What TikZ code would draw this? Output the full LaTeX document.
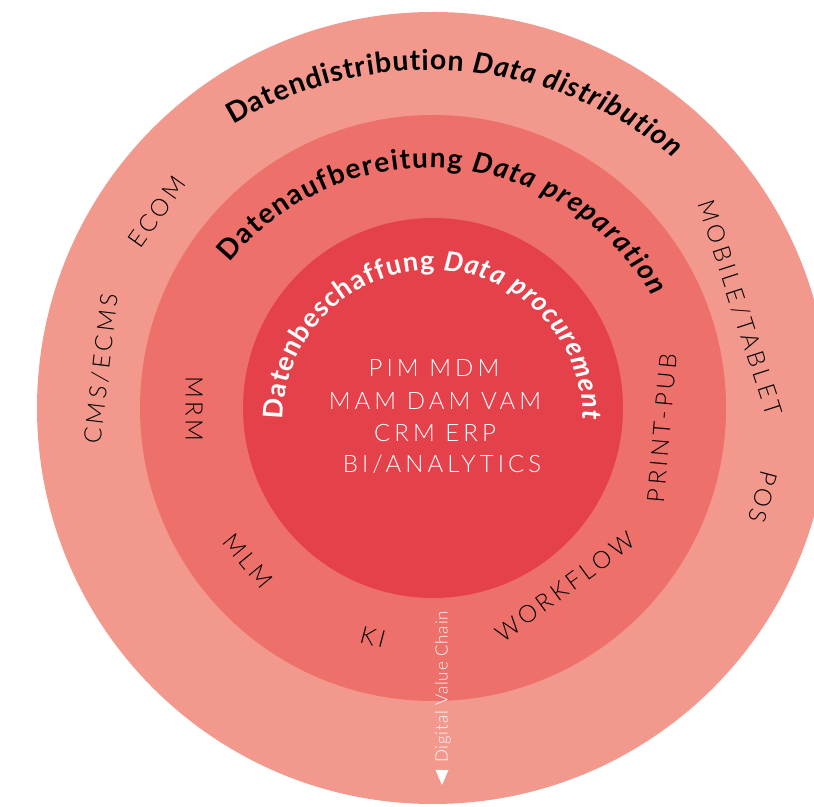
\documentclass[tikz,border=0pt]{standalone}
\usepackage{fontspec}
\setmainfont{Lato}
\newfontfamily\labelfont[LetterSpace=15]{Lato Light}
\newfontfamily\corefont[LetterSpace=17]{Lato Light}
\newfontfamily\dvcfont[LetterSpace=5]{Lato Light}
\usetikzlibrary{decorations.text}
\definecolor{ringout}{HTML}{F2988C}
\definecolor{ringmid}{HTML}{EE706A}
\definecolor{ringin}{HTML}{E5414B}
\tikzset{
  ring/.style={circle, inner sep=0pt, draw=none},
  lab/.style={font=\labelfont\fontsize{24}{26}\selectfont, text=black, inner sep=0pt},
  corelab/.style={font=\corefont\fontsize{24}{26}\selectfont, text=white, inner sep=0pt, anchor=base},
}
\begin{document}
\begin{tikzpicture}[x=1pt,y=1pt]
\useasboundingbox (0,0) rectangle (814,806);
\clip (0,0) rectangle (814,806);
\fill[white] (0,0) rectangle (814,806);
% rings
\node[ring, fill=ringout, minimum size=792pt] (outer) at (433,398) {};
\node[ring, fill=ringmid, minimum size=586pt] (middle) at (433,398) {};
\node[ring, fill=ringin, minimum size=380pt] (inner) at (433,398) {};
% curved titles
\path[decorate, decoration={text along path, text align=fit to path,
  text={|\fontsize{28.5}{32}\selectfont\bfseries|Datendistribution |\fontsize{28.5}{32}\selectfont\bfseries\itshape|Data distribution}}]
  ([shift={(121.2:380)}]430,356) arc[start angle=121.2, end angle=50.3, radius=380];
\path[decorate, decoration={text along path, text align=fit to path,
  text={|\fontsize{28}{32}\selectfont\bfseries|Datenaufbereitung |\fontsize{28}{32}\selectfont\bfseries\itshape|Data preparation}}]
  ([shift={(140.6:258)}]429,380) arc[start angle=140.6, end angle=30.1, radius=258];
\path[decorate, decoration={text along path, text align=fit to path, text color=white,
  text={|\fontsize{27}{31}\selectfont\bfseries|Datenbeschaffung |\fontsize{27}{31}\selectfont\bfseries\itshape|Data procurement}}]
  ([shift={(180:150)}]433,386) arc[start angle=180, end angle=0, radius=150];
% core labels
\node[corelab] (l1) at (434,429) {PIM MDM};
\node[corelab] (l2) at (435,396) {MAM DAM VAM};
\node[corelab] (l3) at (435,364) {CRM ERP};
\node[corelab] (l4) at (442,333) {BI/ANALYTICS};
% middle ring labels
\node[lab, rotate=-90] (mrm) at (194,397) {MRM};
\node[lab, rotate=-50.4] (mlm) at (248,245) {MLM};
\node[lab, rotate=-14.7] (ki) at (373,169) {KI};
\node[lab, rotate=36.4] (wf) at (565,219) {WORKFLOW};
\node[lab, rotate=85] (pp) at (662,378) {PRINT-PUB};
% outer ring labels
\node[lab, rotate=54.6] (ecom) at (157,594) {ECOM};
\node[lab, rotate=83.3] (cms) at (101,437) {CMS/ECMS};
\node[lab, rotate=-72] (mob) at (740,498) {MOBILE/TABLET};
\node[lab, rotate=-105] (pos) at (763,309) {POS};
% digital value chain
\node[rotate=90, text=white, font=\dvcfont\fontsize{17}{20}\selectfont, inner sep=0pt] (dvc) at (443,119) {Digital Value Chain};
\fill[white] (435.5,36) -- (448.5,36) -- (442,21) -- cycle;
\end{tikzpicture}
\end{document}
